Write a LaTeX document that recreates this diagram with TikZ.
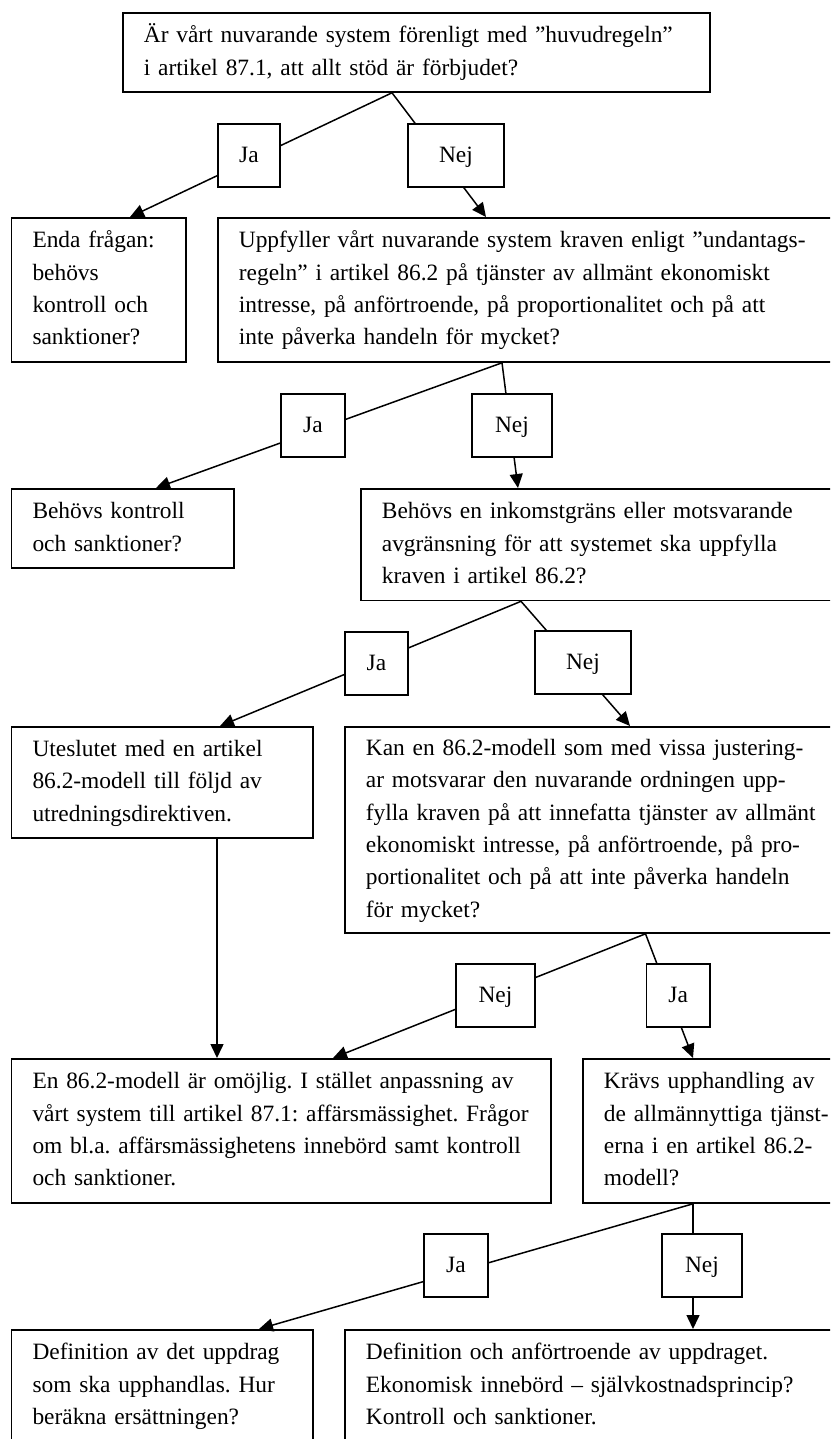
\documentclass[tikz,border=0pt]{standalone}
\usepackage{fontspec}
\setmainfont{Liberation Serif}
\usetikzlibrary{arrows.meta}
\frenchspacing
\newcommand{\boxlines}[1]{\noindent\begin{tabular}{@{}l@{}}#1\end{tabular}}
\begin{document}
\begin{tikzpicture}[x=1pt,y=-1pt,
  every node/.style={font=\fontsize{23.4}{32.3}\selectfont\frenchspacing},
  qbox/.style={draw, line width=1.8pt, fill=white, anchor=north west,
    inner xsep=21pt, inner ysep=0pt, align=left},
  ans/.style={draw, line width=1.8pt, fill=white, anchor=north west,
    inner sep=0pt, minimum height=63pt, text height=16pt, text depth=1pt, align=center},
  arr/.style={line width=1.5pt, -{Triangle[length=14pt,width=13pt]}}]
\useasboundingbox (0,0) rectangle (830,1439);
\clip (0,0) rectangle (830,1439);
% main boxes
\node[qbox, text width=545pt, minimum height=79pt] (q1) at (122,12)
  {\boxlines{Är vårt nuvarande system förenligt med ”huvudregeln”\\ i artikel 87.1, att allt stöd är förbjudet?}};
\node[qbox, text width=132.4pt, minimum height=144pt] (enda) at (10.6,217)
  {\boxlines{Enda frågan:\\ behövs\\ kontroll och\\ sanktioner?}};
\node[qbox, text width=641pt, minimum height=144pt] (upp) at (217,217)
  {\boxlines{Uppfyller vårt nuvarande system kraven enligt ”undantags-\\ regeln” i artikel 86.2 på tjänster av allmänt ekonomiskt\\ intresse, på anförtroende, på proportionalitet och på att\\ inte påverka handeln för mycket?}};
\node[qbox, text width=180.4pt, minimum height=79pt] (beh) at (10.6,488)
  {\boxlines{Behövs kontroll\\ och sanktioner?}};
\node[qbox, text width=498pt, minimum height=111.5pt] (ink) at (360,488)
  {\boxlines{Behövs en inkomstgräns eller motsvarande\\ avgränsning för att systemet ska uppfylla\\ kraven i artikel 86.2?}};
\node[qbox, text width=259.4pt, minimum height=111pt] (ute) at (10.6,726)
  {\boxlines{Uteslutet med en artikel\\ 86.2-modell till följd av\\ utredningsdirektiven.}};
\node[qbox, text width=514pt, minimum height=206pt] (kan) at (344,726)
  {\boxlines{Kan en 86.2-modell som med vissa justering-\\ ar motsvarar den nuvarande ordningen upp-\\ fylla kraven på att innefatta tjänster av allmänt\\ ekonomiskt intresse, på anförtroende, på pro-\\ portionalitet och på att inte påverka handeln\\ för mycket?}};
\node[qbox, text width=497.4pt, minimum height=144pt] (en) at (10.6,1058)
  {\boxlines{En 86.2-modell är omöjlig. I stället anpassning av\\ vårt system till artikel 87.1: affärsmässighet. Frågor\\ om bl.a. affärsmässighetens innebörd samt kontroll\\ och sanktioner.}};
\node[qbox, text width=276pt, minimum height=144pt] (kr) at (582,1058)
  {\boxlines{Krävs upphandling av\\ de allmännyttiga tjänst-\\ erna i en artikel 86.2-\\ modell?}};
\node[qbox, text width=259.4pt, minimum height=111.5pt] (defl) at (10.6,1329)
  {\boxlines{Definition av det uppdrag\\ som ska upphandlas. Hur\\ beräkna ersättningen?}};
\node[qbox, text width=514pt, minimum height=111.5pt] (defr) at (344,1329)
  {\boxlines{Definition och anförtroende av uppdraget.\\ Ekonomisk innebörd – självkostnadsprincip?\\ Kontroll och sanktioner.}};
% connectors
\draw[arr] ([xshift=270pt]q1.south west) -- ([xshift=119.4pt]enda.north west);
\draw[arr] ([xshift=270pt]q1.south west) -- ([xshift=269pt]upp.north west);
\draw[arr] ([xshift=285pt]upp.south west) -- ([xshift=145.4pt]beh.north west);
\draw[arr] ([xshift=285pt]upp.south west) -- ([xshift=158pt]ink.north west);
\draw[arr] ([xshift=161pt]ink.south west) -- ([xshift=209.4pt]ute.north west);
\draw[arr] ([xshift=161pt]ink.south west) -- ([xshift=286pt]kan.north west);
\draw[arr] ([xshift=206.4pt]ute.south west) -- ([xshift=206.4pt]en.north west);
\draw[arr] ([xshift=301.5pt]kan.south west) -- ([xshift=322.4pt]en.north west);
\draw[arr] ([xshift=301.5pt]kan.south west) -- ([xshift=111pt]kr.north west);
\draw[arr] ([xshift=111pt]kr.south west) -- ([xshift=248.4pt]defl.north west);
\draw[arr] ([xshift=111pt]kr.south west) -- ([xshift=349pt]defr.north west);
% answer labels
\node[ans, minimum width=62pt] (j1) at (217,123) {Ja};
\node[ans, minimum width=96pt] (n1) at (407,123) {Nej};
\node[ans, minimum width=64pt] (j2) at (280,393) {Ja};
\node[ans, minimum width=80pt] (n2) at (471,393) {Nej};
\node[ans, minimum width=63pt] (j3) at (344,631) {Ja};
\node[ans, minimum width=96pt] (n3) at (534,630) {Nej};
\node[ans, minimum width=79pt] (n4) at (455,963) {Nej};
\node[ans, minimum width=63.5pt] (j4) at (645.5,963) {Ja};
\node[ans, minimum width=64pt] (j5) at (423,1233) {Ja};
\node[ans, minimum width=80pt] (n5) at (661,1233) {Nej};
\end{tikzpicture}
\end{document}
